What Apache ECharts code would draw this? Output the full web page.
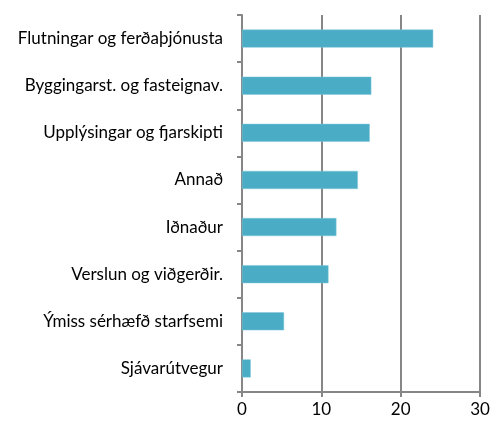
<!DOCTYPE html>
<html>
<head>
<meta charset="utf-8">
<script src="https://cdn.jsdelivr.net/npm/echarts@6/dist/echarts.min.js"></script>
<style>
  html, body { margin: 0; padding: 0; background: #fff; }
  #chart { width: 501px; height: 424px; }
</style>
</head>
<body>
<div id="chart"></div>
<script>
var categories = [
    'Flutningar og ferðaþjónusta',
    'Byggingarst. og fasteignav.',
    'Upplýsingar og fjarskipti',
    'Annað',
    'Iðnaður',
    'Verslun og viðgerðir.',
    'Ýmiss sérhæfð starfsemi',
    'Sjávarútvegur'
];
var values = [24.1, 16.3, 16.1, 14.6, 11.9, 10.9, 5.3, 1.1];
var xTicks = [0, 10, 20, 30];

var gridColor = '#868686';
var chart = echarts.init(document.getElementById('chart'));
var option = {
    animation: false,
    grid: { left: 242, right: 21, top: 15, bottom: 32 },
    xAxis: {
        type: 'value',
        min: xTicks[0],
        max: xTicks[xTicks.length - 1],
        interval: 10,
        axisLine: { show: true, lineStyle: { color: gridColor, width: 2 } },
        axisTick: { show: true, length: 5, lineStyle: { color: gridColor, width: 2 } },
        splitLine: { show: true, lineStyle: { color: gridColor, width: 2 } },
        axisLabel: { color: '#000', fontSize: 17, fontFamily: 'Lato', margin: 9 }
    },
    yAxis: {
        type: 'category',
        inverse: true,
        data: categories,
        axisLine: { show: true, lineStyle: { color: gridColor, width: 2 } },
        axisTick: { show: true, length: 5, lineStyle: { color: gridColor, width: 2 } },
        axisLabel: { color: '#000', fontSize: 17, fontFamily: 'Lato', margin: 19 }
    },
    series: [{
        type: 'bar',
        data: values,
        barWidth: 18,
        itemStyle: { color: '#4BACC6', borderColor: '#7cc6d8', borderWidth: 0.5 }
    }]
};
chart.setOption(option);
</script>
</body>
</html>
